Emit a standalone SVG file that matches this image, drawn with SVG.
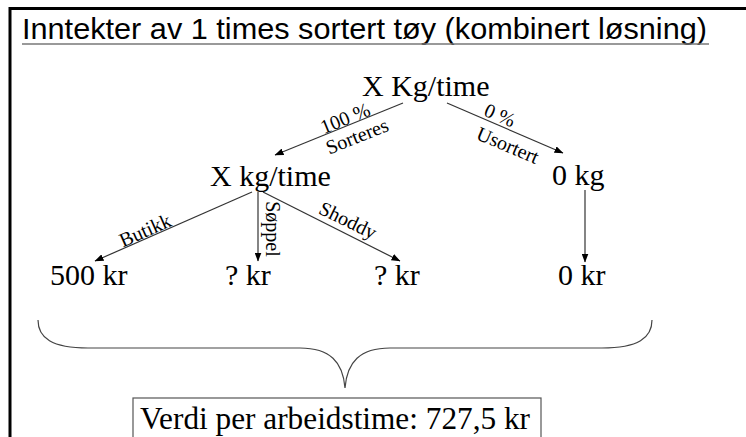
<svg xmlns="http://www.w3.org/2000/svg" width="746" height="437" viewBox="0 0 746 437">
<style>
.t{font-family:"Liberation Serif","Times New Roman",serif;fill:#000}
.n{font-size:30px}
.l{font-size:20px}
.c{stroke:#333;stroke-width:1.2;fill:none}
</style>
<defs>
<marker id="ah" markerWidth="9" markerHeight="7" refX="8.5" refY="3.5" orient="auto" markerUnits="userSpaceOnUse">
<path d="M0,0 L9,3.5 L0,7 z" fill="#000"/>
</marker>
</defs>
<rect width="746" height="437" fill="#fff"/>
<path d="M10,437 V8.5 H746" fill="none" stroke="#000" stroke-width="3"/>
<g id="title">
<text x="22" y="39" font-family="Liberation Sans, Arial, sans-serif" font-size="30" textLength="685" lengthAdjust="spacingAndGlyphs">Inntekter av 1 times sortert tøy (kombinert løsning)</text>
<line x1="22" y1="44" x2="709" y2="44" stroke="#777" stroke-width="1.3"/>
</g>
<g id="connectors">
<line class="c" x1="403" y1="103" x2="275" y2="155" marker-end="url(#ah)"/>
<line class="c" x1="447" y1="103" x2="563" y2="153" marker-end="url(#ah)"/>
<line class="c" x1="252" y1="192" x2="95" y2="261" marker-end="url(#ah)"/>
<line class="c" x1="258" y1="192" x2="258" y2="261" marker-end="url(#ah)"/>
<line class="c" x1="263" y1="192" x2="400" y2="261" marker-end="url(#ah)"/>
<line class="c" x1="585" y1="190" x2="585" y2="262" marker-end="url(#ah)"/>
<text class="t l" text-anchor="middle" dy="0.35em" transform="translate(345,118) rotate(-22)">100 %</text>
<text class="t l" text-anchor="middle" dy="0.35em" transform="translate(357,136) rotate(-22)">Sorteres</text>
<text class="t l" text-anchor="middle" dy="0.35em" transform="translate(500,115) rotate(23)">0 %</text>
<text class="t l" text-anchor="middle" dy="0.35em" transform="translate(508,145) rotate(23)">Usortert</text>
<text class="t l" text-anchor="middle" dy="0.35em" transform="translate(145,230) rotate(-24)">Butikk</text>
<text class="t l" text-anchor="middle" dy="0.35em" transform="translate(273,229) rotate(90)">Søppel</text>
<text class="t l" text-anchor="middle" dy="0.35em" transform="translate(348,220) rotate(26)">Shoddy</text>
</g>
<g id="n-top"><text class="t n" x="362" y="96">X Kg/time</text></g>
<g id="n-sorted"><text class="t n" x="210" y="186">X kg/time</text></g>
<g id="n-unsorted"><text class="t n" x="552" y="185">0 kg</text></g>
<g id="n-butikk"><text class="t n" x="50" y="285">500 kr</text></g>
<g id="n-soppel"><text class="t n" x="225" y="285">? kr</text></g>
<g id="n-shoddy"><text class="t n" x="374" y="285">? kr</text></g>
<g id="n-zero"><text class="t n" x="558" y="285">0 kr</text></g>
<g id="brace"><path d="M38,320 C38,338 52,348 88,348 L300,348 C330,348 343,362 345,388 C347,362 360,348 390,348 L602,348 C638,348 652,338 652,320" fill="none" stroke="#444" stroke-width="1.2"/></g>
<g id="result">
<rect x="133" y="398" width="408" height="60" fill="#fff" stroke="#555" stroke-width="1.2"/>
<text class="t" x="140" y="429" font-size="31" textLength="390" lengthAdjust="spacingAndGlyphs">Verdi per arbeidstime: 727,5 kr</text>
</g>
</svg>
